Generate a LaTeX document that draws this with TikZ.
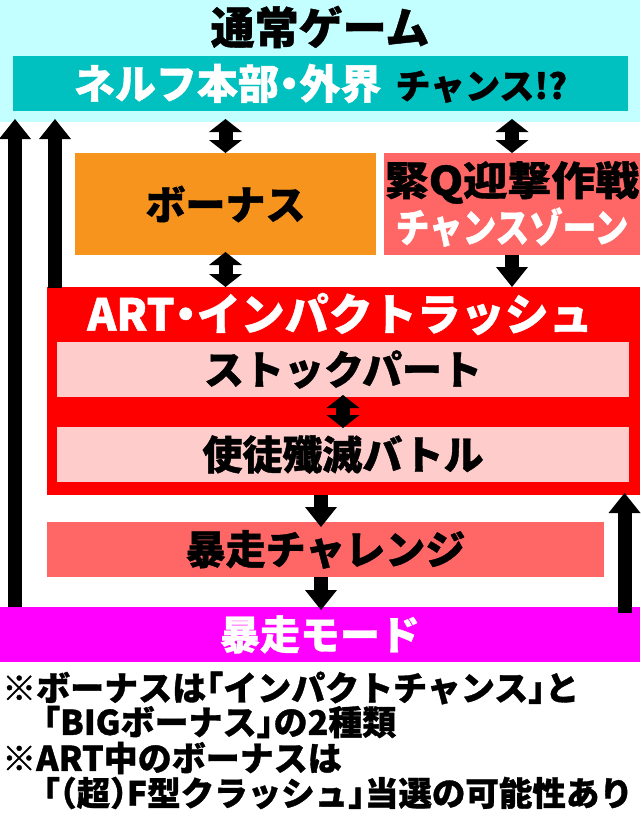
\documentclass[tikz,border=0pt]{standalone}
\usepackage{fontspec}
\newfontfamily\jpfont{Noto Sans CJK JP}[RawFeature=+halt, BoldFeatures={FakeBold=1}]
\newfontfamily\jpnarrow{Noto Sans CJK JP}[FakeStretch=0.84, BoldFeatures={FakeBold=1}]
\newfontfamily\jpwide{Noto Sans CJK JP}[FakeStretch=1.1, BoldFeatures={FakeBold=1}]
\usetikzlibrary{arrows.meta}
\definecolor{normalcyan}{RGB}{196,255,255}
\definecolor{nervteal}{RGB}{0,192,192}
\definecolor{bonusorange}{RGB}{247,148,29}
\definecolor{chancesalmon}{RGB}{255,102,102}
\definecolor{artred}{RGB}{255,0,0}
\definecolor{partpink}{RGB}{255,204,204}
\definecolor{modemagenta}{RGB}{255,0,255}
\tikzset{
  box/.style={inner sep=0pt, outer sep=0pt, font=\jpfont\bfseries\fontsize{40}{44}\selectfont},
  notetext/.style={inner sep=0pt, anchor=west, font=\jpfont\bfseries\fontsize{34}{36}\selectfont},
  bigarrow/.style={line width=14pt, -{Triangle[width=32pt,length=20pt,line width=0pt]}},
  dblarrow/.style={line width=14pt, {Triangle[width=33pt,length=13pt,line width=0pt]}-{Triangle[width=33pt,length=13pt,line width=0pt]}}
}

\begin{document}
\begin{tikzpicture}[x=1pt,y=-1pt]
  \useasboundingbox (0,0) rectangle (640,830);
  % normal game band
  \node[box, fill=normalcyan, minimum width=640pt, minimum height=122pt] (normal) at (320,61) {};
  \node[box, font=\jpfont\bfseries\fontsize{44}{48}\selectfont] (normaltitle) at (320,27) {通常ゲーム};
  \node[box, fill=nervteal, minimum width=615pt, minimum height=55pt] (nerv) at (320.5,83.5)
    {\textcolor{white}{\fontsize{41}{44}\selectfont ネルフ本部・外界}\hspace{14pt}{\fontsize{35}{40}\selectfont チャンス!?}};
  % bonus and chance zone
  \node[box, fill=bonusorange, minimum width=301pt, minimum height=102pt] (bonus) at (225.5,204) {ボーナス};
  \node[box, fill=chancesalmon, minimum width=256pt, minimum height=102pt, align=center,
    font=\jpfont\bfseries\fontsize{40}{47}\selectfont] (kinq) at (512,204)
    {{\jpwide\bfseries 緊Q迎撃作戦}\\\textcolor{white}{\jpnarrow\bfseries チャンスゾーン}};
  % ART
  \node[box, fill=artred, minimum width=593pt, minimum height=208pt] (art) at (343.5,391) {};
  \node[box, text=white, font=\jpfont\bfseries\fontsize{44}{48}\selectfont] (arttitle) at (340,314) {ART・インパクトラッシュ};
  \node[box, fill=partpink, minimum width=572pt, minimum height=55pt] (stock) at (343,369.5) {ストックパート};
  \node[box, fill=partpink, minimum width=572pt, minimum height=55pt] (battle) at (343,454.5) {使徒殲滅バトル};
  % challenge and mode
  \node[box, fill=chancesalmon, minimum width=557pt, minimum height=55pt] (challenge) at (325.5,549.5) {暴走チャレンジ};
  \node[box, fill=modemagenta, minimum width=640pt, minimum height=55pt, text=white] (mode) at (320,634.5) {暴走モード};
  % notes
  \node[notetext] (note1) at (2,688) {※ボーナスは「インパクトチャンス」と};
  \node[notetext] (note2) at (43,722) {「BIGボーナス」の2種類};
  \node[notetext] (note3) at (2,758) {※ART中のボーナスは};
  \node[notetext, font=\jpfont\bfseries\fontsize{33.5}{36}\selectfont] (note4) at (43,793) {「（超）F型クラッシュ」当選の可能性あり};

  % arrows
  \coordinate (leftrail) at (15,0);
  \coordinate (innerrail) at (55,0);
  \coordinate (rightrail) at (624.5,0);
  \coordinate (midrail) at (321,0);
  \draw[dblarrow] ([yshift=3pt]normal.south -| bonus.north) -- (bonus.north);
  \draw[dblarrow] ([yshift=3pt]normal.south -| kinq.north) -- (kinq.north);
  \draw[dblarrow] ([yshift=3pt]bonus.south) -- (art.north -| bonus.south);
  \draw[bigarrow] (kinq.south) -- (art.north -| kinq.south);
  \draw[dblarrow] ([yshift=2pt]stock.south) -- ([yshift=-1pt]battle.north);
  \draw[bigarrow] (art.south -| midrail) -- ([yshift=-5pt]challenge.north -| midrail);
  \draw[bigarrow] (challenge.south -| midrail) -- ([yshift=-3pt]mode.north -| midrail);
  \draw[bigarrow] (mode.north -| leftrail) -- ([yshift=3pt]normal.south -| leftrail);
  \draw[bigarrow] ([yshift=-1pt]art.north -| innerrail) -- ([yshift=3pt]normal.south -| innerrail);
  \draw[bigarrow] ([yshift=-6pt]mode.north -| rightrail) -- ([yshift=2pt]art.south -| rightrail);
\end{tikzpicture}
\end{document}
